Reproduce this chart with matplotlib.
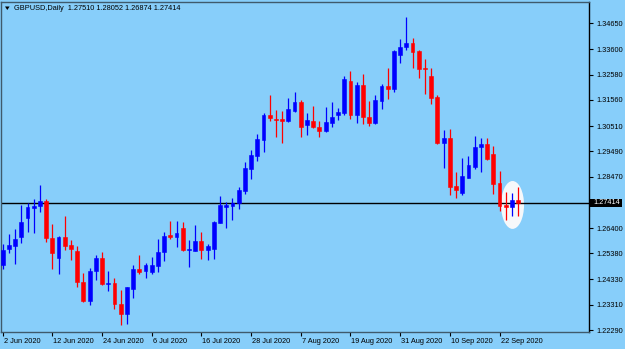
import matplotlib
matplotlib.use('Agg')
import matplotlib.pyplot as plt
import matplotlib.transforms as mtransforms
from matplotlib.patches import Ellipse, Rectangle, Polygon
import numpy as np
import pandas as pd

# ---------------- data ----------------
symbol = "GBPUSD,Daily"
dates = pd.bdate_range('2020-06-02', periods=84)

opens = [1.2491, 1.2555, 1.2569, 1.2605, 1.2682, 1.2720, 1.2730, 1.2749, 1.2601, 1.2518,
         1.2605, 1.2572, 1.2547, 1.2424, 1.2347, 1.2467, 1.2520, 1.2414, 1.2417, 1.2334,
         1.2294, 1.2394, 1.2475, 1.2467, 1.2464, 1.2488, 1.2542, 1.2611, 1.2605, 1.2639,
         1.2550, 1.2549, 1.2588, 1.2551, 1.2554, 1.2662, 1.2726, 1.2730, 1.2740, 1.2789,
         1.2877, 1.2930, 1.2995, 1.3096, 1.3079, 1.3079, 1.3073, 1.3113, 1.3147, 1.3055,
         1.3071, 1.3048, 1.3032, 1.3064, 1.3096, 1.3102, 1.3233, 1.3096, 1.3216, 1.3086,
         1.3063, 1.3153, 1.3212, 1.3199, 1.3337, 1.3371, 1.3384, 1.3353, 1.3286, 1.3254,
         1.3167, 1.2981, 1.3004, 1.2809, 1.2780, 1.2843, 1.2887, 1.2965, 1.2977, 1.2937,
         1.2820, 1.2733, 1.2724, 1.27510]
highs = [1.2576, 1.2616, 1.2636, 1.2733, 1.2740, 1.2757, 1.2813, 1.2756, 1.2656, 1.2609,
         1.2690, 1.2592, 1.2568, 1.2458, 1.2478, 1.2531, 1.2545, 1.2467, 1.2440, 1.2390,
         1.2404, 1.2491, 1.2531, 1.2500, 1.2522, 1.2596, 1.2625, 1.2670, 1.2668, 1.2666,
         1.2592, 1.2652, 1.2625, 1.2576, 1.2670, 1.2770, 1.2746, 1.2762, 1.2807, 1.2907,
         1.2955, 1.3019, 1.3102, 1.3176, 1.3116, 1.3112, 1.3163, 1.3189, 1.3156, 1.3102,
         1.3133, 1.3071, 1.3129, 1.3147, 1.3123, 1.3253, 1.3273, 1.3230, 1.3260, 1.3153,
         1.3176, 1.3220, 1.3286, 1.3358, 1.3401, 1.3489, 1.3407, 1.3358, 1.3320, 1.3284,
         1.3176, 1.3035, 1.3038, 1.2867, 1.2921, 1.2932, 1.3011, 1.3004, 1.3002, 1.2971,
         1.2870, 1.2784, 1.2782, 1.28052]
lows = [1.2475, 1.2541, 1.2495, 1.2581, 1.2625, 1.2619, 1.2706, 1.2585, 1.2474, 1.2455,
        1.2551, 1.2511, 1.2401, 1.2343, 1.2330, 1.2431, 1.2410, 1.2388, 1.2313, 1.2249,
        1.2253, 1.2357, 1.2454, 1.2437, 1.2454, 1.2462, 1.2508, 1.2596, 1.2565, 1.2549,
        1.2482, 1.2549, 1.2515, 1.2511, 1.2515, 1.2659, 1.2641, 1.2672, 1.2717, 1.2776,
        1.2836, 1.2911, 1.2948, 1.3071, 1.3006, 1.2981, 1.3069, 1.3109, 1.3008, 1.3015,
        1.3042, 1.3006, 1.3028, 1.3048, 1.3075, 1.3096, 1.3079, 1.3062, 1.3058, 1.3052,
        1.3059, 1.3119, 1.3160, 1.3189, 1.3304, 1.3358, 1.3284, 1.3243, 1.3179, 1.3140,
        1.2978, 1.2883, 1.2773, 1.2762, 1.2773, 1.2840, 1.2877, 1.2865, 1.2914, 1.2776,
        1.2709, 1.2672, 1.2689, 1.26874]
closes = [1.2551, 1.2572, 1.2596, 1.2666, 1.2724, 1.2730, 1.2749, 1.2601, 1.2541, 1.2605,
          1.2569, 1.2554, 1.2424, 1.2346, 1.2467, 1.2520, 1.2413, 1.2420, 1.2333, 1.2294,
          1.2401, 1.2475, 1.2464, 1.2491, 1.2491, 1.2542, 1.2609, 1.2605, 1.2621, 1.2551,
          1.2556, 1.2588, 1.2551, 1.2568, 1.2666, 1.2733, 1.2733, 1.2740, 1.2793, 1.2883,
          1.2934, 1.2999, 1.3096, 1.3085, 1.3074, 1.3073, 1.3119, 1.3147, 1.3048, 1.3075,
          1.3046, 1.3032, 1.3069, 1.3089, 1.3106, 1.3241, 1.3096, 1.3216, 1.3086, 1.3064,
          1.3156, 1.3212, 1.3199, 1.3353, 1.3371, 1.3384, 1.3351, 1.3281, 1.3281, 1.3165,
          1.2981, 1.3004, 1.2807, 1.2793, 1.2850, 1.2894, 1.2968, 1.2977, 1.2917, 1.2816,
          1.2730, 1.2724, 1.2753, 1.27414]

xtick_dates = ['2020-06-02', '2020-06-12', '2020-06-24', '2020-07-06', '2020-07-16',
               '2020-07-28', '2020-08-07', '2020-08-19', '2020-08-31', '2020-09-10',
               '2020-09-22']
xtick_labels = ['2 Jun 2020', '12 Jun 2020', '24 Jun 2020', '6 Jul 2020', '16 Jul 2020',
                '28 Jul 2020', '7 Aug 2020', '19 Aug 2020', '31 Aug 2020', '10 Sep 2020',
                '22 Sep 2020']
ytick_values = [1.34650, 1.33600, 1.32580, 1.31560, 1.30510, 1.29490, 1.28470,
                1.26400, 1.25380, 1.24330, 1.23310, 1.22290]

# ---------------- style ----------------
BG = '#87CEFA'
UP = '#0000FF'
DOWN = '#FF0000'
FONT = 'Liberation Sans'
FS = 5.3
plt.rcParams['font.family'] = [FONT, 'DejaVu Sans']

W, H = 625, 349
DPI = 100
fig = plt.figure(figsize=(W / DPI, H / DPI), dpi=DPI, facecolor=BG)
ax = fig.add_axes([1.5 / W, 17 / H, (589 - 1.5) / W, (332 - 2) / H])
ax.set_facecolor(BG)

x = np.arange(len(dates))
ax.set_xlim(-0.19, 94.41)
ax.set_ylim(1.22210, 1.35509)

o = np.array(opens); h = np.array(highs); l = np.array(lows); c = np.array(closes)
up = c >= o
cols = np.where(up, UP, DOWN)

# highlight ellipse around last candles
ax.add_patch(Ellipse((x[-2] + 0.1, 1.2733), width=3.7, height=0.0193,
                     facecolor='#F6F8FA', edgecolor='none', zorder=1))

# bid line
ax.axhline(c[-1], color='black', lw=1.0, zorder=2)

# wicks
ax.vlines(x, l, h, colors=cols, lw=0.9, zorder=3)
# bodies
bottoms = np.minimum(o, c)
heights = np.maximum(np.abs(c - o), 0.00025)
ax.bar(x, heights, bottom=bottoms, width=0.62, color=cols, edgecolor=cols,
       linewidth=0.4, zorder=4)

# axes frame
for s in ['top', 'left', 'bottom']:
    ax.spines[s].set_color('#3f5a6c')
    ax.spines[s].set_linewidth(1.0)
ax.spines['right'].set_color('black')
ax.spines['right'].set_linewidth(1.0)

# x ticks
xt = [dates.get_loc(pd.Timestamp(d)) for d in xtick_dates]
ax.set_xticks(xt)
ax.set_xticklabels(xtick_labels, fontsize=FS, ha='left', color='black')
ax.tick_params(axis='x', direction='out', length=3, width=0.8, pad=1.2, colors='black')
off = mtransforms.ScaledTranslation(1.0 / DPI, 0, fig.dpi_scale_trans)
for lab in ax.get_xticklabels():
    lab.set_transform(lab.get_transform() + off)

# y ticks on right
ax.yaxis.tick_right()
ax.set_yticks(ytick_values)
ax.set_yticklabels([f"{v:.5f}" for v in ytick_values], fontsize=FS, color='black')
ax.tick_params(axis='y', direction='out', length=3, width=0.8, pad=2, colors='black')

# bid price box
trans = mtransforms.blended_transform_factory(ax.transAxes, ax.transData)
px_y = (ax.get_ylim()[1] - ax.get_ylim()[0]) / 330.0
ax_w = 587.5
ax.add_patch(Rectangle((1 + 1.0 / ax_w, c[-1] - 4.2 * px_y), 32.5 / ax_w, 8.4 * px_y,
                       transform=trans, facecolor='black', edgecolor='none',
                       clip_on=False, zorder=5))
ax.text(1 + 4.5 / ax_w, c[-1], f"{c[-1]:.5f}", transform=trans, ha='left', va='center',
        color='white', fontsize=FS, clip_on=False, zorder=6)

# title
fig.text(14 / W, 1 - 8.2 / H,
         f"{symbol}  {o[-1]:.5f} {h[-1]:.5f} {l[-1]:.5f} {c[-1]:.5f}",
         ha='left', va='center', fontsize=FS, color='black')
fig.add_artist(Polygon([(5 / W, 1 - 6.5 / H), (9.6 / W, 1 - 6.5 / H), (7.3 / W, 1 - 10 / H)],
                       closed=True, transform=fig.transFigure, facecolor='black',
                       edgecolor='none'))

fig.savefig('out.png', dpi=DPI, facecolor=BG)
